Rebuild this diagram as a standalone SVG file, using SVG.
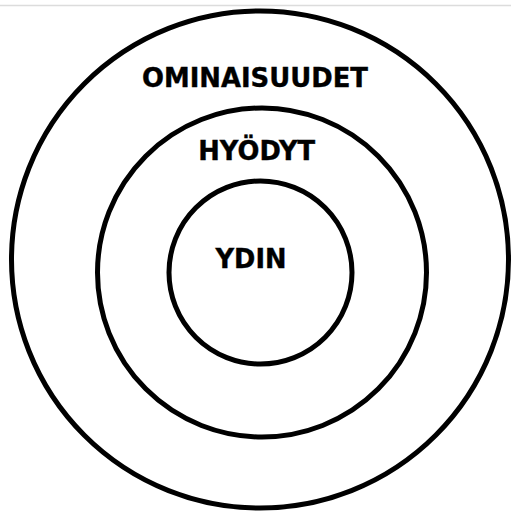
<svg xmlns="http://www.w3.org/2000/svg" width="511" height="515" viewBox="0 0 511 515">
  <style>
    .ring { fill: none; stroke: #000; stroke-width: 5; }
    .lbl { font-family: "DejaVu Sans", "Liberation Sans", sans-serif; font-weight: bold; font-size: 26px; fill: #000; stroke: #000; stroke-width: 0.4; text-anchor: middle; }
  </style>
  <rect x="0" y="0" width="511" height="515" fill="#fff"/>
  <line x1="0" y1="5.5" x2="511" y2="5.5" stroke="#dcdcdc" stroke-width="1.5"/>
  <g id="outer">
    <circle class="ring" cx="260" cy="259.5" r="248.5"/>
    <text class="lbl" x="255" y="87" textLength="226" lengthAdjust="spacingAndGlyphs">OMINAISUUDET</text>
  </g>
  <g id="middle">
    <circle class="ring" cx="262" cy="272.5" r="164.5"/>
    <text class="lbl" x="256.7" y="160" textLength="117" lengthAdjust="spacingAndGlyphs">HYÖDYT</text>
  </g>
  <g id="inner">
    <circle class="ring" cx="260.5" cy="272.5" r="91.5"/>
    <text class="lbl" x="251" y="267.5" textLength="71" lengthAdjust="spacingAndGlyphs">YDIN</text>
  </g>
  <g id="connectors"/>
</svg>
